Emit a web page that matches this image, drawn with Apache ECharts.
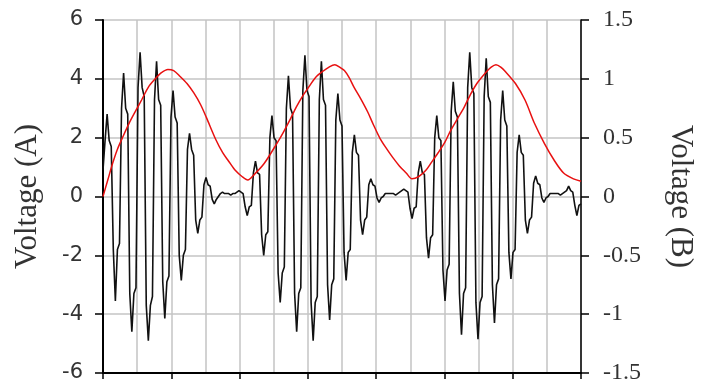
<!DOCTYPE html>
<html>
<head>
<meta charset="utf-8">
<script src="https://cdn.jsdelivr.net/npm/echarts@6/dist/echarts.min.js"></script>
<style>
html,body{margin:0;padding:0;background:#fff;}
#chart{width:704px;height:388px;}
</style>
</head>
<body>
<div id="chart"></div>
<script>
// Voltage (A): samples at uniform spacing along x (0..14 grid units), 8 samples per carrier cycle
const sampleSpacing = 14 / 232;
const voltageA = [
  0.9,
  1.9, 2.8, 1.9, 1.7, -1.8, -3.55, -1.8, -1.6,
  3.0, 4.2, 3.0, 2.8, -3.3, -4.6, -3.3, -3.1,
  3.7, 4.9, 3.7, 3.4, -3.7, -4.9, -3.7, -3.4,
  3.3, 4.6, 3.3, 3.1, -2.9, -4.15, -2.9, -2.7,
  2.7, 3.6, 2.7, 2.5, -2.0, -2.85, -2.0, -1.8,
  1.6, 2.15, 1.6, 1.4, -0.8, -1.25, -0.8, -0.7,
  0.4, 0.65, 0.4, 0.35, -0.1, -0.25, -0.1, 0.0,
  0.1, 0.15, 0.1, 0.1, 0.1, 0.05, 0.1, 0.1,
  0.15, 0.2, 0.15, 0.1, -0.35, -0.65, -0.35, -0.3,
  0.8, 1.2, 0.8, 0.75, -1.3, -2.0, -1.3, -1.2,
  2.0, 2.75, 2.0, 1.9, -2.6, -3.6, -2.6, -2.4,
  3.0, 4.1, 3.0, 2.8, -3.3, -4.6, -3.3, -3.1,
  3.6, 4.8, 3.6, 3.4, -3.6, -4.9, -3.6, -3.4,
  3.3, 4.6, 3.3, 3.1, -3.0, -4.2, -3.0, -2.8,
  2.6, 3.5, 2.6, 2.4, -1.9, -2.85, -1.9, -1.8,
  1.5, 2.1, 1.5, 1.4, -0.8, -1.3, -0.8, -0.7,
  0.4, 0.6, 0.4, 0.35, -0.05, -0.2, -0.05, 0.0,
  0.1, 0.1, 0.1, 0.1, 0.1, 0.05, 0.1, 0.15,
  0.2, 0.25, 0.2, 0.15, -0.4, -0.75, -0.4, -0.35,
  0.8, 1.2, 0.8, 0.75, -1.4, -2.1, -1.4, -1.3,
  2.0, 2.75, 2.0, 1.9, -2.5, -3.55, -2.5, -2.3,
  2.9, 3.9, 2.9, 2.7, -3.3, -4.7, -3.3, -3.1,
  3.7, 4.9, 3.7, 3.5, -3.6, -4.85, -3.6, -3.4,
  3.4, 4.7, 3.4, 3.2, -3.0, -4.3, -3.0, -2.8,
  2.6, 3.6, 2.6, 2.4, -1.9, -2.8, -1.9, -1.8,
  1.5, 2.1, 1.5, 1.4, -0.8, -1.25, -0.8, -0.7,
  0.45, 0.7, 0.45, 0.4, -0.05, -0.2, -0.05, 0.0,
  0.1, 0.1, 0.1, 0.1, 0.1, 0.05, 0.1, 0.15,
  0.2, 0.35, 0.2, 0.15, -0.3, -0.65, -0.3, -0.25
];

// Voltage (B): x positions (grid units) and values
const voltageBx = [0, 0.14, 0.28, 0.42, 0.57, 0.76, 0.96, 1.13, 1.33, 1.53, 1.70, 1.90, 2.07, 2.26, 2.46, 2.66, 2.86, 3.03, 3.31, 3.51, 3.68, 3.88, 4.07, 4.24, 4.44, 4.72, 5.09, 5.29, 5.49, 5.66, 5.86, 6.05, 6.22, 6.42, 6.62, 6.79, 6.93, 7.07, 7.21, 7.35, 7.55, 7.75, 7.92, 8.12, 8.32, 8.49, 8.68, 8.88, 9.05, 9.25, 9.45, 9.62, 9.81, 10.01, 10.18, 10.38, 10.58, 10.75, 10.95, 11.23, 11.37, 11.51, 11.65, 11.79, 12.08, 12.36, 12.64, 12.93, 13.21, 13.49, 13.78, 14.0];
const voltageB = [0.00, 0.14, 0.28, 0.40, 0.50, 0.62, 0.73, 0.82, 0.93, 1.00, 1.05, 1.08, 1.07, 1.02, 0.96, 0.88, 0.78, 0.67, 0.48, 0.37, 0.30, 0.22, 0.17, 0.14, 0.19, 0.28, 0.45, 0.55, 0.66, 0.76, 0.86, 0.94, 1.01, 1.06, 1.10, 1.12, 1.10, 1.07, 1.01, 0.93, 0.83, 0.72, 0.61, 0.49, 0.40, 0.33, 0.26, 0.20, 0.15, 0.17, 0.22, 0.29, 0.37, 0.46, 0.56, 0.66, 0.76, 0.86, 0.96, 1.06, 1.10, 1.12, 1.10, 1.06, 0.96, 0.82, 0.62, 0.45, 0.31, 0.20, 0.15, 0.13];

const leftTicks = {min: -6, max: 6, interval: 2};
const rightTicks = {min: -1.5, max: 1.5, interval: 0.5};

const seriesA = voltageA.map((v, i) => [i * sampleSpacing, v]);
const seriesB = voltageB.map((v, i) => [voltageBx[i], v]);

const chart = echarts.init(document.getElementById('chart'), null, {renderer: 'canvas'});
const gridColor = '#c4c4c4';
chart.setOption({
  animation: false,
  backgroundColor: '#ffffff',
  grid: {left: 103, right: 106, top: 20, bottom: 15, containLabel: false},
  xAxis: {
    type: 'value', min: 0, max: 14, interval: 2,
    axisLine: {show: true, onZero: false, lineStyle: {color: '#000', width: 2}},
    axisTick: {show: true, inside: false, length: 6, lineStyle: {color: '#000', width: 1.5}},
    axisLabel: {show: false},
    splitLine: {show: true, lineStyle: {color: gridColor, width: 1.5}},
    minorTick: {show: false, splitNumber: 2},
    minorSplitLine: {show: true, lineStyle: {color: gridColor, width: 1.5}}
  },
  yAxis: [
    {
      type: 'value', position: 'left', min: leftTicks.min, max: leftTicks.max, interval: leftTicks.interval,
      name: 'Voltage (A)', nameLocation: 'middle', nameGap: 60, nameRotate: 90,
      nameTextStyle: {fontFamily: 'Liberation Serif', fontSize: 31, color: '#333'},
      axisLine: {show: true, lineStyle: {color: '#000', width: 2}},
      axisTick: {show: true, inside: false, length: 8, lineStyle: {color: '#000', width: 1.5}},
      axisLabel: {margin: 20, fontFamily: 'DejaVu Sans', fontSize: 21, color: '#333'},
      splitLine: {show: true, lineStyle: {color: gridColor, width: 1.5}}
    },
    {
      type: 'value', position: 'right', min: rightTicks.min, max: rightTicks.max, interval: rightTicks.interval,
      name: 'Voltage (B)', nameLocation: 'middle', nameGap: 84, nameRotate: -90,
      nameTextStyle: {fontFamily: 'Liberation Serif', fontSize: 31, color: '#333'},
      axisLine: {show: true, lineStyle: {color: '#000', width: 1.5}},
      axisTick: {show: true, inside: false, length: 8, lineStyle: {color: '#000', width: 1.5}},
      axisLabel: {margin: 22, fontFamily: 'Liberation Serif', fontSize: 24, color: '#333'},
      splitLine: {show: false}
    }
  ],
  series: [
    {
      type: 'line', yAxisIndex: 0, data: seriesA, showSymbol: false, symbol: 'none',
      lineStyle: {color: '#111', width: 1.6}
    },
    {
      type: 'line', yAxisIndex: 1, data: seriesB, showSymbol: false, symbol: 'none', smooth: 0.3,
      lineStyle: {color: '#e81010', width: 1.5}
    }
  ]
});
</script>
</body>
</html>
